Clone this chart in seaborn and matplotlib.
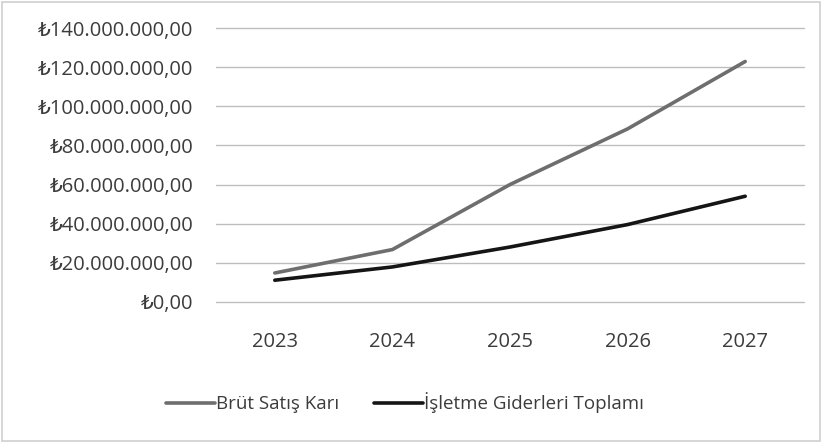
import matplotlib
matplotlib.use("Agg")
import matplotlib.pyplot as plt
import matplotlib.ticker as mticker
from matplotlib.patches import Rectangle
from matplotlib.lines import Line2D
import seaborn as sns
import pandas as pd

years = [2023, 2024, 2025, 2026, 2027]
brut_satis_kari = [14.7e6, 26.7e6, 60.0e6, 88.5e6, 123.0e6]
isletme_giderleri = [11.0e6, 17.8e6, 28.0e6, 39.5e6, 54.0e6]
series_names = ["Brüt Satış Karı", "İşletme Giderleri Toplamı"]
y_ticks = [0, 20e6, 40e6, 60e6, 80e6, 100e6, 120e6, 140e6]

df = pd.DataFrame({
    "Yıl": years * 2,
    "Değer": brut_satis_kari + isletme_giderleri,
    "Seri": [series_names[0]] * len(years) + [series_names[1]] * len(years),
})

sns.set_style("white")
plt.rcParams["font.family"] = ["Open Sans", "DejaVu Sans"]

fig = plt.figure(figsize=(8.22, 4.43), dpi=100)
ax = fig.add_axes([216 / 822, 1 - 301.7 / 443, (804 - 216) / 822, (301.7 - 28.3) / 443])

sns.lineplot(data=df, x="Yıl", y="Değer", hue="Seri", ax=ax,
             palette={series_names[0]: "#6e6e6e", series_names[1]: "#151515"},
             linewidth=2.6, legend=False)

ax.set_xlim(years[0] - 0.5, years[-1] + 0.5)
ax.set_ylim(0, 140e6)
ax.set_xticks(years)
ax.set_yticks(y_ticks)

def fmt(v, pos):
    s = f"{v:,.2f}"
    s = s.replace(",", "X").replace(".", ",").replace("X", ".")
    return "₺" + s

ax.yaxis.set_major_formatter(mticker.FuncFormatter(fmt))
ax.grid(axis="y", color="#bdbdbd", linewidth=1.0)
ax.grid(axis="x", visible=False)
for gl in ax.get_ygridlines():
    gl.set_clip_on(False)
for sp in ax.spines.values():
    sp.set_visible(False)
ax.tick_params(axis="y", length=0, pad=16, labelsize=14.5, labelcolor="#3c3c3c")
ax.tick_params(axis="x", length=0, pad=22, labelsize=14.5, labelcolor="#3c3c3c")
ax.set_xlabel("")
ax.set_ylabel("")

handles = [Line2D([], [], color="#6e6e6e", lw=2.6), Line2D([], [], color="#151515", lw=2.6)]
fig.legend(handles, series_names, loc="center", bbox_to_anchor=(405 / 822, 1 - 403 / 443),
           ncol=2, frameon=False, fontsize=13.5, handlelength=2.6, handletextpad=0.05,
           columnspacing=1.9, labelcolor="#3c3c3c")

fig.patches.append(Rectangle((0.003, 0.005), 0.994, 0.99, transform=fig.transFigure,
                             fill=False, edgecolor="#cfcfcf", linewidth=1.2))

fig.savefig("out.png", dpi=100)
